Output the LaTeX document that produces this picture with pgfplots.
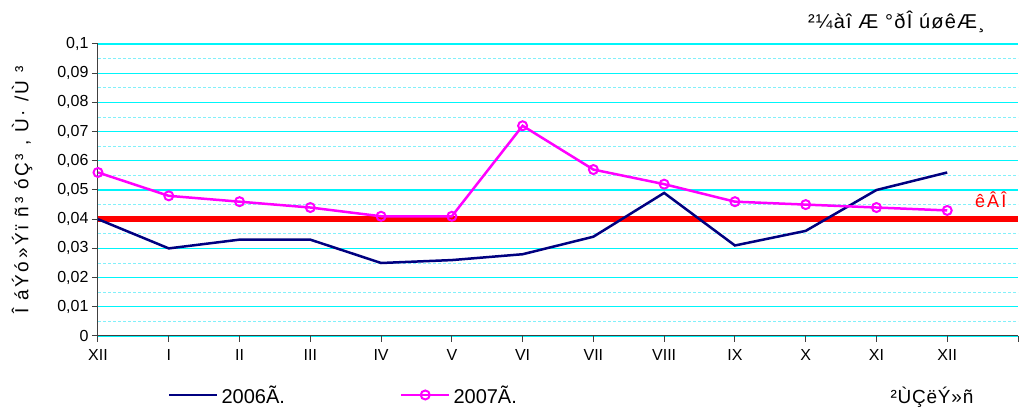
\documentclass[border=0pt]{standalone}
\usepackage{pgfplots}
\pgfplotsset{compat=1.18}
\usepackage{fontspec}
\setmainfont{Liberation Sans}
\definecolor{navyline}{RGB}{0,0,128}
\definecolor{magline}{RGB}{255,0,255}
\definecolor{gridcyan}{RGB}{0,245,250}
\definecolor{minorcyan}{RGB}{130,240,250}
\begin{document}
\begin{tikzpicture}
\useasboundingbox (-98pt,-76pt) rectangle (923pt,336pt);
\begin{axis}[
  at={(0pt,0pt)}, anchor=south west,
  scale only axis, width=920pt, height=292pt,
  xmin=0, xmax=13, ymin=0, ymax=0.1,
  axis x line*=bottom, axis y line*=left,
  axis line style={black!75, line width=1pt},
  xtick={0,1,2,3,4,5,6,7,8,9,10,11,12,13},
  xticklabels={XII,I,II,III,IV,V,VI,VII,VIII,IX,X,XI,XII,{}},
  ytick={0,0.01,0.02,0.03,0.04,0.05,0.06,0.07,0.08,0.09,0.1},
  minor ytick={0.005,0.015,0.025,0.035,0.045,0.055,0.065,0.075,0.085,0.095},
  ymajorgrids, yminorgrids,
  major grid style={gridcyan, line width=1.3pt},
  minor grid style={minorcyan, dash pattern=on 3pt off 2pt, line width=0.9pt},
  tick align=outside, major tick length=6pt, minor tick length=0pt,
  tick style={black!75, line width=1pt},
  tick label style={font=\fontsize{16}{18}\selectfont},
  /pgf/number format/assume math mode=true,
  yticklabel style={/pgf/number format/.cd, fixed, use comma, precision=2},
  xticklabel style={yshift=-4pt},
  ylabel={\addfontfeature{LetterSpace=14}Î áÝó»Ýï ñ³ óÇ³ , Ù· /Ù ³},
  every axis y label/.style={at={(rel axis cs:-0.0826,0.5)}, rotate=90, anchor=center, font=\fontsize{19}{21}\selectfont},
  clip=false,
  legend columns=2,
  legend style={at={(rel axis cs:0.076,-0.202)}, anchor=west, draw=none, fill=none,
    font=\fontsize{20}{22}\selectfont, inner sep=0pt,
    nodes={inner sep=3pt},
    /tikz/every even column/.append style={column sep=112pt}},
  legend image code/.code={\draw[mark repeat=2,mark phase=2,#1] plot coordinates {(0pt,0pt) (24pt,0pt) (48pt,0pt)};},
]
\addplot[red, line width=6pt, forget plot] coordinates {(0,0.04) (13,0.04)};
\addplot[navyline, line width=2.5pt] coordinates {
(0,0.040) (1,0.030) (2,0.033) (3,0.033) (4,0.025) (5,0.026) (6,0.028)
(7,0.034) (8,0.049) (9,0.031) (10,0.036) (11,0.050) (12,0.056)};
\addlegendentry{2006Ã.}
\addplot[magline, line width=2.5pt, mark=o, mark size=4.5pt, mark options={fill=white, line width=2pt}] coordinates {
(0,0.056) (1,0.048) (2,0.046) (3,0.044) (4,0.041) (5,0.041) (6,0.072)
(7,0.057) (8,0.052) (9,0.046) (10,0.045) (11,0.044) (12,0.043)};
\addlegendentry{2007Ã.}
\node[red, font=\fontsize{18}{20}\selectfont, anchor=west, inner sep=0pt] at (axis cs:12.39,0.0466) {\addfontfeature{LetterSpace=12}êÂÎ};
\node[font=\fontsize{20}{22}\selectfont] at (rel axis cs:0.868,1.075) {\addfontfeature{LetterSpace=6}²¼àî Æ °ðÎ úøêÆ¸};
\node[font=\fontsize{19}{21}\selectfont] at (rel axis cs:0.9065,-0.209) {\addfontfeature{LetterSpace=4}²ÙÇëÝ»ñ};
\end{axis}
\end{tikzpicture}
\end{document}
